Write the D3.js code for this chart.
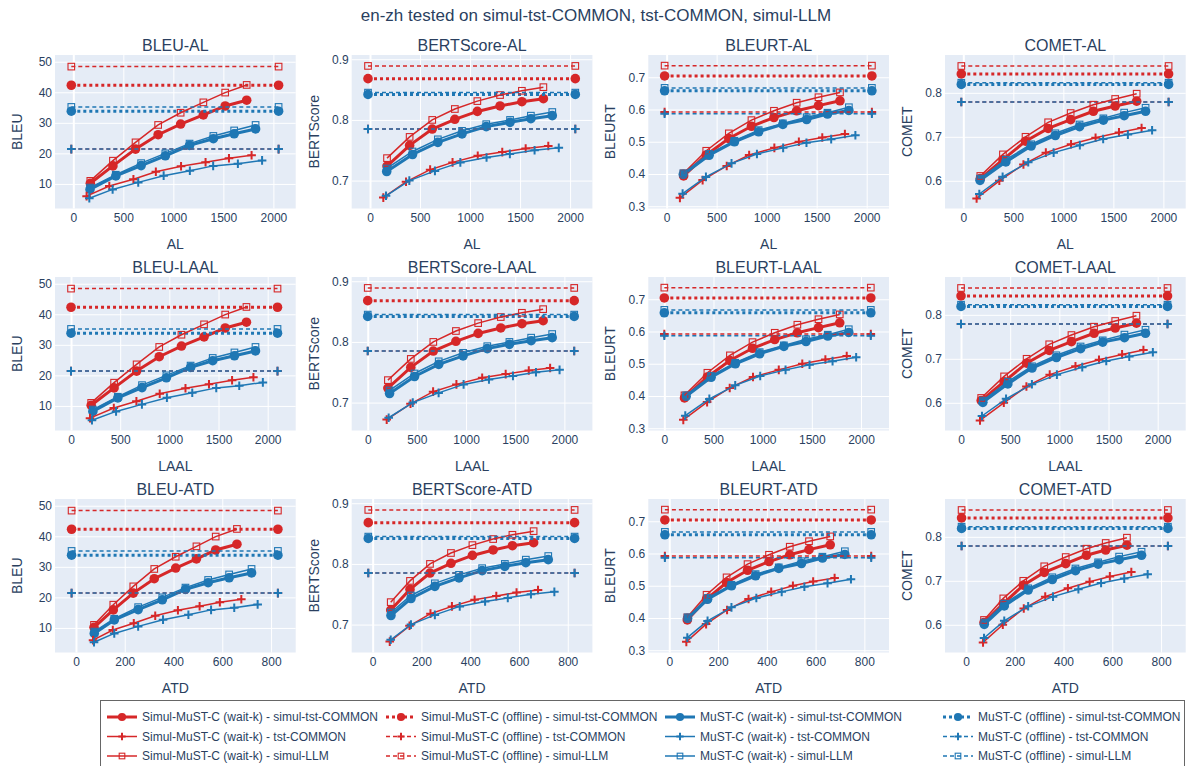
<!DOCTYPE html>
<html><head><meta charset="utf-8">
<script src="https://cdn.jsdelivr.net/npm/d3@7"></script>
<style>
body{margin:0;background:#fff}
svg text{font-family:"Liberation Sans",Arial,sans-serif;fill:#2a3f5f}
</style>
</head><body><svg id="chart" width="1187" height="766"></svg>
<script>
// ---------------- DATA ----------------
const latencyMetrics = ["AL", "LAAL", "ATD"];
const qualityMetrics = ["BLEU", "BERTScore", "BLEURT", "COMET"];

// wait-k latency values (8 settings per model/test set)
const al_simul_simulTst   = [170, 396, 622, 848, 1073, 1300, 1518, 1733];
const al_simul_tst        = [133, 360, 601, 825, 1077, 1322, 1556, 1782];
const al_simul_llm        = [170, 396, 622, 848, 1073, 1300, 1518, 1733];
const al_mustc_simulTst   = [167, 425, 678, 920, 1162, 1400, 1608, 1822];
const al_mustc_tst        = [160, 393, 649, 903, 1165, 1398, 1645, 1887];
const al_mustc_llm        = [167, 425, 678, 920, 1162, 1400, 1608, 1822];

const laal_simul_simulTst = [205, 438, 667, 897, 1123, 1353, 1568, 1784];
const laal_simul_tst      = [193, 435, 665, 902, 1164, 1403, 1638, 1855];
const laal_simul_llm      = [205, 438, 667, 897, 1123, 1353, 1568, 1784];
const laal_mustc_simulTst = [222, 476, 722, 970, 1216, 1441, 1662, 1876];
const laal_mustc_tst      = [213, 458, 721, 975, 1233, 1477, 1711, 1951];
const laal_mustc_llm      = [222, 476, 722, 970, 1216, 1441, 1662, 1876];

const atd_simul_simulTst  = [74, 153, 235, 321, 409, 494, 573, 660];
const atd_simul_tst       = [70, 151, 237, 325, 418, 507, 590, 678];
const atd_simul_llm       = [74, 153, 235, 321, 409, 494, 573, 660];
const atd_mustc_simulTst  = [75, 157, 255, 354, 449, 542, 628, 720];
const atd_mustc_tst       = [74, 157, 255, 357, 461, 554, 649, 745];
const atd_mustc_llm       = [75, 157, 255, 354, 449, 542, 628, 720];

// wait-k quality values
const bleu_simul_simulTst = [10.2, 15.9, 21.4, 26.1, 29.6, 32.6, 35.5, 37.4];
const bleu_simul_tst      = [6.0, 9.3, 11.5, 14.0, 15.8, 17.1, 18.4, 19.4];
const bleu_simul_llm      = [11.0, 17.6, 23.6, 29.3, 33.3, 36.7, 39.9, 42.4];
const bleu_mustc_simulTst = [8.2, 12.6, 16.0, 19.2, 22.6, 24.8, 26.4, 28.0];
const bleu_mustc_tst      = [5.3, 8.2, 10.5, 12.7, 14.3, 15.9, 16.6, 17.7];
const bleu_mustc_llm      = [8.8, 13.0, 16.8, 20.0, 23.2, 25.7, 27.5, 29.3];

const bert_simul_simulTst = [0.724, 0.758, 0.785, 0.801, 0.814, 0.823, 0.830, 0.835];
const bert_simul_tst      = [0.672, 0.698, 0.718, 0.730, 0.741, 0.747, 0.753, 0.757];
const bert_simul_llm      = [0.737, 0.772, 0.800, 0.818, 0.831, 0.841, 0.848, 0.854];
const bert_mustc_simulTst = [0.715, 0.743, 0.763, 0.777, 0.789, 0.796, 0.802, 0.807];
const bert_mustc_tst      = [0.675, 0.700, 0.716, 0.730, 0.738, 0.744, 0.750, 0.754];
const bert_mustc_llm      = [0.720, 0.748, 0.768, 0.782, 0.793, 0.800, 0.807, 0.813];

const bleurt_simul_simulTst = [0.394, 0.459, 0.510, 0.548, 0.575, 0.596, 0.612, 0.627];
const bleurt_simul_tst      = [0.326, 0.381, 0.425, 0.459, 0.481, 0.500, 0.513, 0.524];
const bleurt_simul_llm      = [0.402, 0.472, 0.526, 0.567, 0.596, 0.621, 0.638, 0.653];
const bleurt_mustc_simulTst = [0.399, 0.458, 0.500, 0.531, 0.554, 0.569, 0.586, 0.597];
const bleurt_mustc_tst      = [0.339, 0.391, 0.433, 0.462, 0.481, 0.497, 0.508, 0.520];
const bleurt_mustc_llm      = [0.402, 0.462, 0.503, 0.536, 0.557, 0.576, 0.590, 0.607];

const comet_simul_simulTst = [0.605, 0.648, 0.690, 0.719, 0.739, 0.758, 0.770, 0.781];
const comet_simul_tst      = [0.560, 0.600, 0.637, 0.664, 0.683, 0.698, 0.710, 0.720];
const comet_simul_llm      = [0.611, 0.660, 0.700, 0.733, 0.754, 0.773, 0.786, 0.798];
const comet_mustc_simulTst = [0.601, 0.643, 0.679, 0.703, 0.723, 0.738, 0.748, 0.758];
const comet_mustc_tst      = [0.570, 0.609, 0.642, 0.664, 0.681, 0.695, 0.705, 0.715];
const comet_mustc_llm      = [0.605, 0.648, 0.683, 0.708, 0.728, 0.742, 0.755, 0.766];

// offline scores, order: simul/simulTst, simul/tst, simul/llm, mustc/simulTst, mustc/tst, mustc/llm
const offline_BLEU      = [42.3, 21.4, 48.4, 33.8, 21.4, 35.2];
const offline_BERTScore = [0.868, 0.785, 0.889, 0.842, 0.785, 0.845];
const offline_BLEURT    = [0.704, 0.592, 0.736, 0.658, 0.587, 0.667];
const offline_COMET     = [0.843, 0.779, 0.861, 0.819, 0.779, 0.823];
// offline reference lines span these latency values
const offline_AL   = [-20, 2052];
const offline_LAAL = [0, 2100];
const offline_ATD  = [-18, 828];

// tick labels
const ticks_AL   = [0, 500, 1000, 1500, 2000];
const ticks_LAAL = [0, 500, 1000, 1500, 2000];
const ticks_ATD  = [0, 200, 400, 600, 800];
const ticks_BLEU      = [10, 20, 30, 40, 50];
const ticks_BERTScore = [0.7, 0.8, 0.9];
const ticks_BLEURT    = [0.3, 0.4, 0.5, 0.6, 0.7];
const ticks_COMET     = [0.6, 0.7, 0.8];

// ---------------- LAYOUT ----------------
const RED = "#d62728", BLUE = "#1f77b4";
const plotW = 240.7, plotH = 153.5;
const colX = [55, 351.7, 648.3, 945];
const rowY = [55, 277, 499];
const xDomains = {AL: [-183, 2223], LAAL: [-163, 2285], ATD: [-86, 901]};
const yDomains = {BLEU: [1.95, 52.2], BERTScore: [0.654, 0.907], BLEURT: [0.293, 0.769], COMET: [0.537, 0.886]};
const xTickMap = {AL: ticks_AL, LAAL: ticks_LAAL, ATD: ticks_ATD};
const yTickMap = {BLEU: ticks_BLEU, BERTScore: ticks_BERTScore, BLEURT: ticks_BLEURT, COMET: ticks_COMET};
const yFmt = {BLEU: d3.format("d"), BERTScore: d3.format(".1f"), BLEURT: d3.format(".1f"), COMET: d3.format(".1f")};
const offlineQ = {BLEU: offline_BLEU, BERTScore: offline_BERTScore, BLEURT: offline_BLEURT, COMET: offline_COMET};
const offlineX = {AL: offline_AL, LAAL: offline_LAAL, ATD: offline_ATD};

function wk(name, color, sym, width, lat, qual) {
  return {name, color, sym, width, dash: null, offline: false, x: lat, y: qual};
}
function off(name, color, sym, width, dash, idx) {
  return {name, color, sym, width, dash, offline: true, idx};
}
const traces = [
  wk("Simul-MuST-C (wait-k) - simul-tst-COMMON", RED, "circle", 3,
     {AL: al_simul_simulTst, LAAL: laal_simul_simulTst, ATD: atd_simul_simulTst},
     {BLEU: bleu_simul_simulTst, BERTScore: bert_simul_simulTst, BLEURT: bleurt_simul_simulTst, COMET: comet_simul_simulTst}),
  off("Simul-MuST-C (offline) - simul-tst-COMMON", RED, "circle", 3, "3,3", 0),
  wk("MuST-C (wait-k) - simul-tst-COMMON", BLUE, "circle", 3,
     {AL: al_mustc_simulTst, LAAL: laal_mustc_simulTst, ATD: atd_mustc_simulTst},
     {BLEU: bleu_mustc_simulTst, BERTScore: bert_mustc_simulTst, BLEURT: bleurt_mustc_simulTst, COMET: comet_mustc_simulTst}),
  off("MuST-C (offline) - simul-tst-COMMON", BLUE, "circle", 3, "3,3", 3),
  wk("Simul-MuST-C (wait-k) - tst-COMMON", RED, "cross", 1.5,
     {AL: al_simul_tst, LAAL: laal_simul_tst, ATD: atd_simul_tst},
     {BLEU: bleu_simul_tst, BERTScore: bert_simul_tst, BLEURT: bleurt_simul_tst, COMET: comet_simul_tst}),
  off("Simul-MuST-C (offline) - tst-COMMON", RED, "cross", 1.5, "4,3", 1),
  wk("MuST-C (wait-k) - tst-COMMON", BLUE, "cross", 1.5,
     {AL: al_mustc_tst, LAAL: laal_mustc_tst, ATD: atd_mustc_tst},
     {BLEU: bleu_mustc_tst, BERTScore: bert_mustc_tst, BLEURT: bleurt_mustc_tst, COMET: comet_mustc_tst}),
  off("MuST-C (offline) - tst-COMMON", BLUE, "cross", 1.5, "4,3", 4),
  wk("Simul-MuST-C (wait-k) - simul-LLM", RED, "square", 1.5,
     {AL: al_simul_llm, LAAL: laal_simul_llm, ATD: atd_simul_llm},
     {BLEU: bleu_simul_llm, BERTScore: bert_simul_llm, BLEURT: bleurt_simul_llm, COMET: comet_simul_llm}),
  off("Simul-MuST-C (offline) - simul-LLM", RED, "square", 1.5, "4,3", 2),
  wk("MuST-C (wait-k) - simul-LLM", BLUE, "square", 1.5,
     {AL: al_mustc_llm, LAAL: laal_mustc_llm, ATD: atd_mustc_llm},
     {BLEU: bleu_mustc_llm, BERTScore: bert_mustc_llm, BLEURT: bleurt_mustc_llm, COMET: comet_mustc_llm}),
  off("MuST-C (offline) - simul-LLM", BLUE, "square", 1.5, "4,3", 5)
];

const svg = d3.select("#chart");

function drawSymbol(g, sym, color, cx, cy, s) {
  s = s || 1;
  if (sym === "circle") {
    g.append("circle").attr("cx", cx).attr("cy", cy).attr("r", 4.8 * s).attr("fill", color);
  } else if (sym === "cross") {
    const a = 4.3 * s;
    g.append("path").attr("d", `M${cx - a},${cy}H${cx + a}M${cx},${cy - a}V${cy + a}`)
      .attr("stroke", color).attr("stroke-width", 2).attr("fill", "none");
  } else {
    const a = 3.3 * s;
    g.append("rect").attr("x", cx - a).attr("y", cy - a).attr("width", 2 * a).attr("height", 2 * a)
      .attr("fill", "none").attr("stroke", color).attr("stroke-width", 1.1);
  }
}

// main title
svg.append("text").attr("x", 596).attr("y", 21).attr("text-anchor", "middle")
  .attr("font-size", 17).text("en-zh tested on simul-tst-COMMON, tst-COMMON, simul-LLM");

latencyMetrics.forEach((lat, r) => {
  qualityMetrics.forEach((q, c) => {
    const left = colX[c], top = rowY[r];
    const x = d3.scaleLinear().domain(xDomains[lat]).range([left, left + plotW]);
    const y = d3.scaleLinear().domain(yDomains[q]).range([top + plotH, top]);
    const g = svg.append("g");
    g.append("rect").attr("x", left).attr("y", top).attr("width", plotW).attr("height", plotH).attr("fill", "#E5ECF6");

    // grid via axes
    const gx = g.append("g").attr("transform", `translate(0,${top})`)
      .call(d3.axisBottom(x).tickValues(xTickMap[lat]).tickSize(plotH).tickSizeOuter(0).tickFormat(""));
    gx.select(".domain").remove();
    gx.selectAll("line").attr("stroke", "#fff").attr("stroke-width", d => d === 0 ? 2 : 1);
    const gy = g.append("g").attr("transform", `translate(${left},0)`)
      .call(d3.axisRight(y).tickValues(yTickMap[q]).tickSize(plotW).tickFormat(""));
    gy.select(".domain").remove();
    gy.selectAll("line").attr("stroke", "#fff").attr("stroke-width", 1);

    // tick labels via axes
    const ax = g.append("g").attr("transform", `translate(0,${top + plotH})`)
      .call(d3.axisBottom(x).tickValues(xTickMap[lat]).tickSize(0).tickPadding(5).tickFormat(d3.format("d")));
    ax.select(".domain").remove();
    ax.selectAll("text").attr("font-size", 12).attr("font-family", null).attr("fill", "#2a3f5f");
    const ay = g.append("g").attr("transform", `translate(${left},0)`)
      .call(d3.axisLeft(y).tickValues(yTickMap[q]).tickSize(0).tickPadding(3).tickFormat(yFmt[q]));
    ay.select(".domain").remove();
    ay.selectAll("text").attr("font-size", 12).attr("font-family", null).attr("fill", "#2a3f5f");

    // titles
    svg.append("text").attr("x", left + plotW / 2).attr("y", top - 4).attr("text-anchor", "middle")
      .attr("font-size", 16).text(`${q}-${lat}`);
    svg.append("text").attr("x", left + plotW / 2).attr("y", top + plotH + 40.5).attr("text-anchor", "middle")
      .attr("font-size", 14).text(lat);
    svg.append("text").attr("transform", `translate(${left - 33},${top + plotH / 2}) rotate(-90)`)
      .attr("text-anchor", "middle").attr("font-size", 14).text(q);

    // traces
    traces.forEach(t => {
      const tg = g.append("g");
      let pts;
      if (t.offline) {
        const v = offlineQ[q][t.idx];
        pts = offlineX[lat].map(xv => [xv, v]);
      } else {
        pts = t.x[lat].map((xv, i) => [xv, t.y[q][i]]);
      }
      const line = d3.line().x(d => x(d[0])).y(d => y(d[1]));
      tg.append("path").attr("d", line(pts)).attr("fill", "none").attr("stroke", t.color)
        .attr("stroke-width", t.width).attr("stroke-dasharray", t.dash);
      pts.forEach(p => drawSymbol(tg, t.sym, t.color, x(p[0]), y(p[1])));
    });
  });
});

// legend
const lg = svg.append("g");
lg.append("rect").attr("x", 100.5).attr("y", 700.5).attr("width", 1084).attr("height", 80)
  .attr("fill", "#fff").attr("stroke", "#666").attr("stroke-width", 1);
const legX = [102, 381, 660, 938];
const legY = [717, 736.5, 756];
traces.forEach((t, i) => {
  const cx = legX[i % 4], cy = legY[Math.floor(i / 4)];
  const ig = lg.append("g");
  ig.append("path").attr("d", `M${cx + 5},${cy}H${cx + 35}`).attr("stroke", t.color)
    .attr("stroke-width", t.width).attr("stroke-dasharray", t.dash).attr("fill", "none");
  drawSymbol(ig, t.sym, t.color, cx + 20, cy, 0.85);
  ig.append("text").attr("x", cx + 40).attr("y", cy + 4).attr("font-size", 12).text(t.name);
});
</script></body></html>
